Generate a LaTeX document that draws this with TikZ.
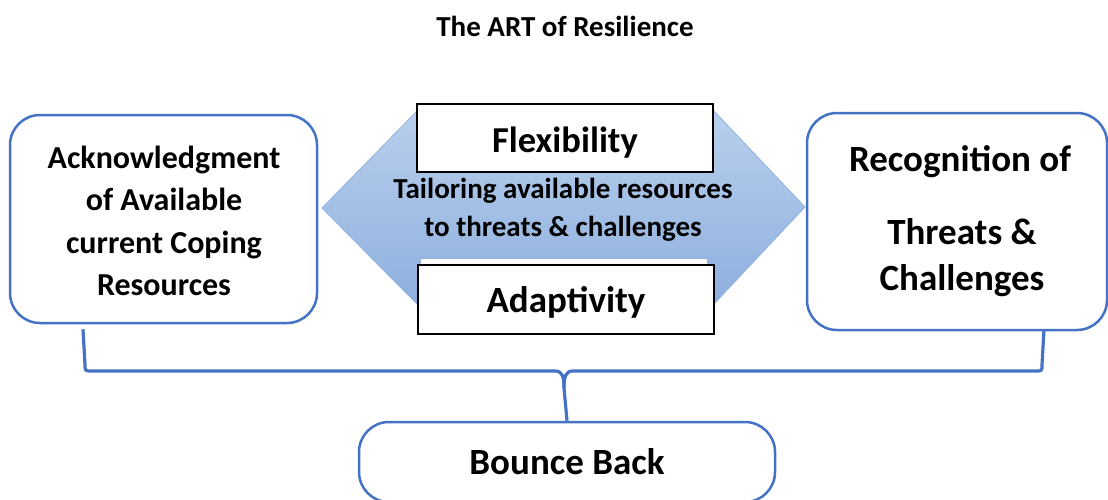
\documentclass[tikz,border=0pt]{standalone}
\usepackage{fontspec}
\setmainfont{Carlito}
\usetikzlibrary{calc}
\definecolor{frameblue}{HTML}{4472C4}
\definecolor{hextop}{RGB}{186,208,237}
\definecolor{hexbot}{RGB}{141,175,222}
\definecolor{hexline}{RGB}{143,178,224}
\tikzset{
  roundbox/.style={draw=frameblue, line width=2.5pt, rounded corners=30pt, fill=white,
    minimum width=#1, inner sep=0pt},
  plainbox/.style={draw=black, line width=1.5pt, fill=white, minimum width=296pt,
    minimum height=68pt, inner sep=0pt},
  bracepath/.style={draw=frameblue, line width=3.2pt, line join=round},
  txt/.style n args={2}{font=\bfseries\fontsize{#1pt}{#2pt}\selectfont, align=center, inner sep=0pt},
}
\begin{document}
\begin{tikzpicture}[x=1pt,y=-1pt]
\useasboundingbox (0,0) rectangle (1108,499);

% title
\node[txt={29}{35}] (title) at (565,26) {The ART of Resilience};

% double-headed hexagonal arrow
\path[shade, top color=hextop, bottom color=hexbot, draw=hexline, line width=0.8pt]
  (322,208) -- (418,110) -- (713,110) -- (805,207) -- (713,305) -- (418,305) -- cycle;

% side boxes
\node[roundbox=307pt, minimum height=208pt] (ack) at (163.5,219) {};
\node[txt={32}{42.3}] at (164,221) {Acknowledgment\\ of Available\\ current Coping\\ Resources};

\node[roundbox=300pt, minimum height=217pt] (rec) at (957,221.5) {};
\node[txt={37}{45}] at (960,162) {Recognition of};
\node[txt={37}{46}] at (962,258) {Threats \&\\ Challenges};

% centre boxes
\node[txt={29}{38}] (tailor) at (563,209.5) {Tailoring available resources\\ to threats \& challenges};
\node[plainbox] (flex) at (565,138) {};
\node[txt={36.5}{40}] at (565,143) {Flexibility};
\path[fill=white, draw=hexline, line width=0.5pt] (420,258) rectangle (707,268);
\node[plainbox, minimum height=69pt] (adapt) at (566,299.5) {};
\node[txt={37}{40}] at (566,302) {Adaptivity};

% bottom box
\node[roundbox=416pt, minimum height=80pt] (bounce) at (567,462) {};
\node[txt={37}{40}] at (567,462) {Bounce Back};

% curly brace joining both side boxes to the bottom box
\coordinate (bl) at ($(ack.south)+(-80.5,5)$);
\coordinate (br) at ($(rec.south)+(87,-2)$);
\coordinate (tip) at (bounce.north);
\draw[bracepath] (bl) -- (85,365) .. controls (85,371) .. (92,371) -- (555,371)
  .. controls (562,371) and (564,376) .. (564,388) -- (tip);
\draw[bracepath] (br) -- (1042,365) .. controls (1042,371) .. (1035,371) -- (573,371)
  .. controls (566,371) and (564,376) .. (564,388);
\end{tikzpicture}
\end{document}
